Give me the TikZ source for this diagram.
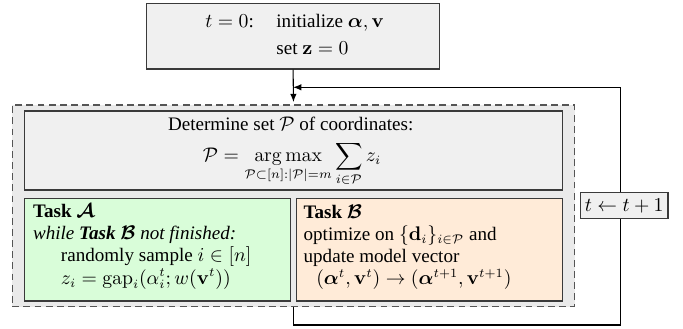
\documentclass[tikz,border=0pt]{standalone}
\usepackage{amsmath,amssymb}
\usepackage[no-math]{fontspec}
\setmainfont{Liberation Serif}
\usetikzlibrary{arrows.meta,calc}
\definecolor{boxline}{HTML}{3A3A3A}
\definecolor{boxfill}{HTML}{F0F0F0}
\definecolor{outerfill}{HTML}{EAEAEA}
\definecolor{dashline}{HTML}{555555}
\definecolor{greenfill}{HTML}{D9FDD9}
\definecolor{orangefill}{HTML}{FFEBD8}
\newcommand{\fsz}{\fontsize{10.6}{12.3}\selectfont}
\begin{document}
\begin{tikzpicture}[x=0.5556pt,y=-0.5556pt,
  box/.style={draw=boxline, line width=0.6pt, inner sep=0pt, rectangle},
  txt/.style={inner sep=0pt, anchor=base west, font=\fsz},
  ctxt/.style={inner sep=0pt, anchor=base, font=\fsz},
  conn/.style={draw=black, line width=0.6pt},
  tip/.style={-{Latex[length=4.6pt,width=3.6pt]}}]
\useasboundingbox (0,0) rectangle (683,328);

% outer dashed region
\node[draw=dashline, fill=outerfill, line width=0.6pt, dash pattern=on 3.8pt off 2.4pt,
      inner sep=0pt, minimum width=312.5pt, minimum height=112.1pt] (D) at (293.5,205.85) {};

% top init box
\node[box, fill=boxfill, minimum width=162.7pt, minimum height=36.5pt] (init) at (293.1,36.15) {};
\node[txt] (inittxt) at (205,27.7) {\begin{tabular}[t]{@{}r@{\hspace{12.5pt}}l@{}}
  $t=0$: & initialize $\boldsymbol{\alpha},\mathbf{v}$\\[2.8pt]
         & set $\mathbf{z}=0$
  \end{tabular}};

% determine box
\node[box, fill=boxfill, minimum width=298.9pt, minimum height=43.9pt] (det) at (293.3,150.5) {};
\node[ctxt] (dettxt) at (290.7,130) {Determine set $\mathcal{P}$ of coordinates:};
\node[ctxt] (detmath) at (292,161.7) {$\displaystyle \mathcal{P}=\operatorname*{arg\,max}_{\mathcal{P}\subset[n]:|\mathcal{P}|=m}\sum_{i\in\mathcal{P}} z_i$};

% task A
\node[box, fill=greenfill, minimum width=148pt, minimum height=56.9pt] (A) at (157.5,249.75) {};
\node[txt] (Atxt) at (32.7,217.7) {\begin{tabular}[t]{@{}l@{}}
  \textbf{Task $\boldsymbol{\mathcal{A}}$}\\
  \textit{while \textbf{Task $\boldsymbol{\mathcal{B}}$} not finished:}\\
  \hspace*{15.5pt}randomly sample $i\in[n]$\\
  \hspace*{15.5pt}$z_i=\mathrm{gap}_i(\alpha_i^t;w(\mathbf{v}^t))$
  \end{tabular}};

% task B
\node[box, fill=orangefill, minimum width=147.6pt, minimum height=56.9pt] (B) at (429.5,249.75) {};
\node[txt] (Btxt) at (303.3,218.3) {\begin{tabular}[t]{@{}l@{}}
  \textbf{Task $\boldsymbol{\mathcal{B}}$}\\
  optimize on $\{\mathbf{d}_i\}_{i\in\mathcal{P}}$ and\\
  update model vector\\
  \hspace*{7pt}$(\boldsymbol{\alpha}^t,\mathbf{v}^t)\rightarrow(\boldsymbol{\alpha}^{t+1},\mathbf{v}^{t+1})$
  \end{tabular}};

% connectors
\coordinate (br) at (620.3,325);
\coordinate (tr) at (620.3,87.3);
\coordinate (ent) at (293.1,87.3);
\draw[conn, tip, shorten >=1.3pt] (init.south) -- (D.north);
\draw[conn, tip] (D.south) |- (br) -- (tr) -- (ent);

% loop counter
\node[box, fill=boxfill, minimum width=48.7pt, minimum height=14.4pt, font=\fsz] (inc) at (624.2,205.7) {$t\leftarrow t+1$};
\end{tikzpicture}
\end{document}
